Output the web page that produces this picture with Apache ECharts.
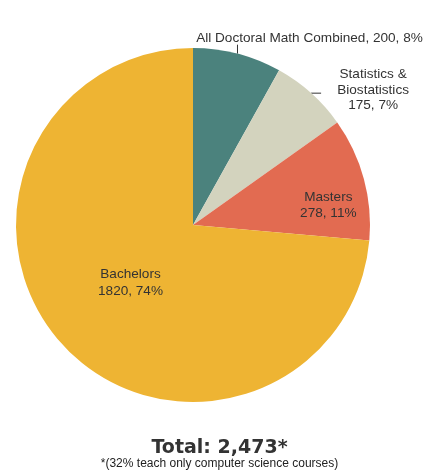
<!DOCTYPE html>
<html>
<head>
<meta charset="utf-8">
<script src="https://cdn.jsdelivr.net/npm/echarts@6/dist/echarts.min.js"></script>
<style>
  html, body {margin: 0; padding: 0; background: #fff;}
  #chart {width: 439px; height: 471px;}
</style>
</head>
<body>
<div id="chart"></div>
<script>
const names = ['All Doctoral Math Combined', 'Statistics &\nBiostatistics', 'Masters', 'Bachelors'];
const counts = [200, 175, 278, 1820];
const colors = ['#4b827d', '#d3d3be', '#e26b51', '#eeb433'];
const totalText = 'Total: 2,473*';
const footnote = '*(32% teach only computer science courses)';

const myChart = echarts.init(document.getElementById('chart'));
const font = 'Liberation Sans, Arial, sans-serif';

myChart.setOption({
  animation: false,
  title: {
    text: totalText,
    subtext: footnote,
    left: 'center',
    top: 433,
    itemGap: 0,
    textStyle: {fontFamily: 'DejaVu Sans', fontWeight: 'bold', fontSize: 19, color: '#333', lineHeight: 21},
    subtextStyle: {fontFamily: font, fontSize: 12, color: '#222', lineHeight: 10}
  },
  series: [{
    type: 'pie',
    center: [193, 225],
    radius: 177,
    startAngle: 90,
    clockwise: true,
    percentPrecision: 0,
    label: {
      fontFamily: font,
      fontSize: 13.6,
      lineHeight: 15.5,
      color: '#333',
      align: 'center',
      overflow: 'none'
    },
    labelLine: {lineStyle: {color: '#333', width: 1}, length: 8, length2: 0},
    emphasis: {disabled: true},
    labelLayout(p) {
      const pts = p.labelLinePoints;
      if (p.dataIndex === 0) {
        const s = pts[0];
        return {x: s[0] + 72, y: s[1] - 15, align: 'center', verticalAlign: 'middle',
          labelLinePoints: [s, [s[0], s[1] - 9]]};
      }
      if (p.dataIndex === 1) {
        const s = pts[0];
        return {x: s[0] + 62, y: s[1] - 3, align: 'center', verticalAlign: 'middle',
          labelLinePoints: [s, [s[0] + 10, s[1]]]};
      }
      if (p.dataIndex === 2) return {dx: 47, dy: 4};
      return {dx: 5, dy: -4};
    },
    data: names.map((n, i) => ({
      name: n,
      value: counts[i],
      itemStyle: {color: colors[i]},
      label: i === 0
        ? {position: 'outside', formatter: '{b}, {c}, {d}%'}
        : i === 1
          ? {position: 'outside', formatter: '{b}\n{c}, {d}%'}
          : {position: 'inside', formatter: '{b}\n{c}, {d}%', lineHeight: 16.5},
      labelLine: {show: i < 2}
    }))
  }]
});
</script>
</body>
</html>
